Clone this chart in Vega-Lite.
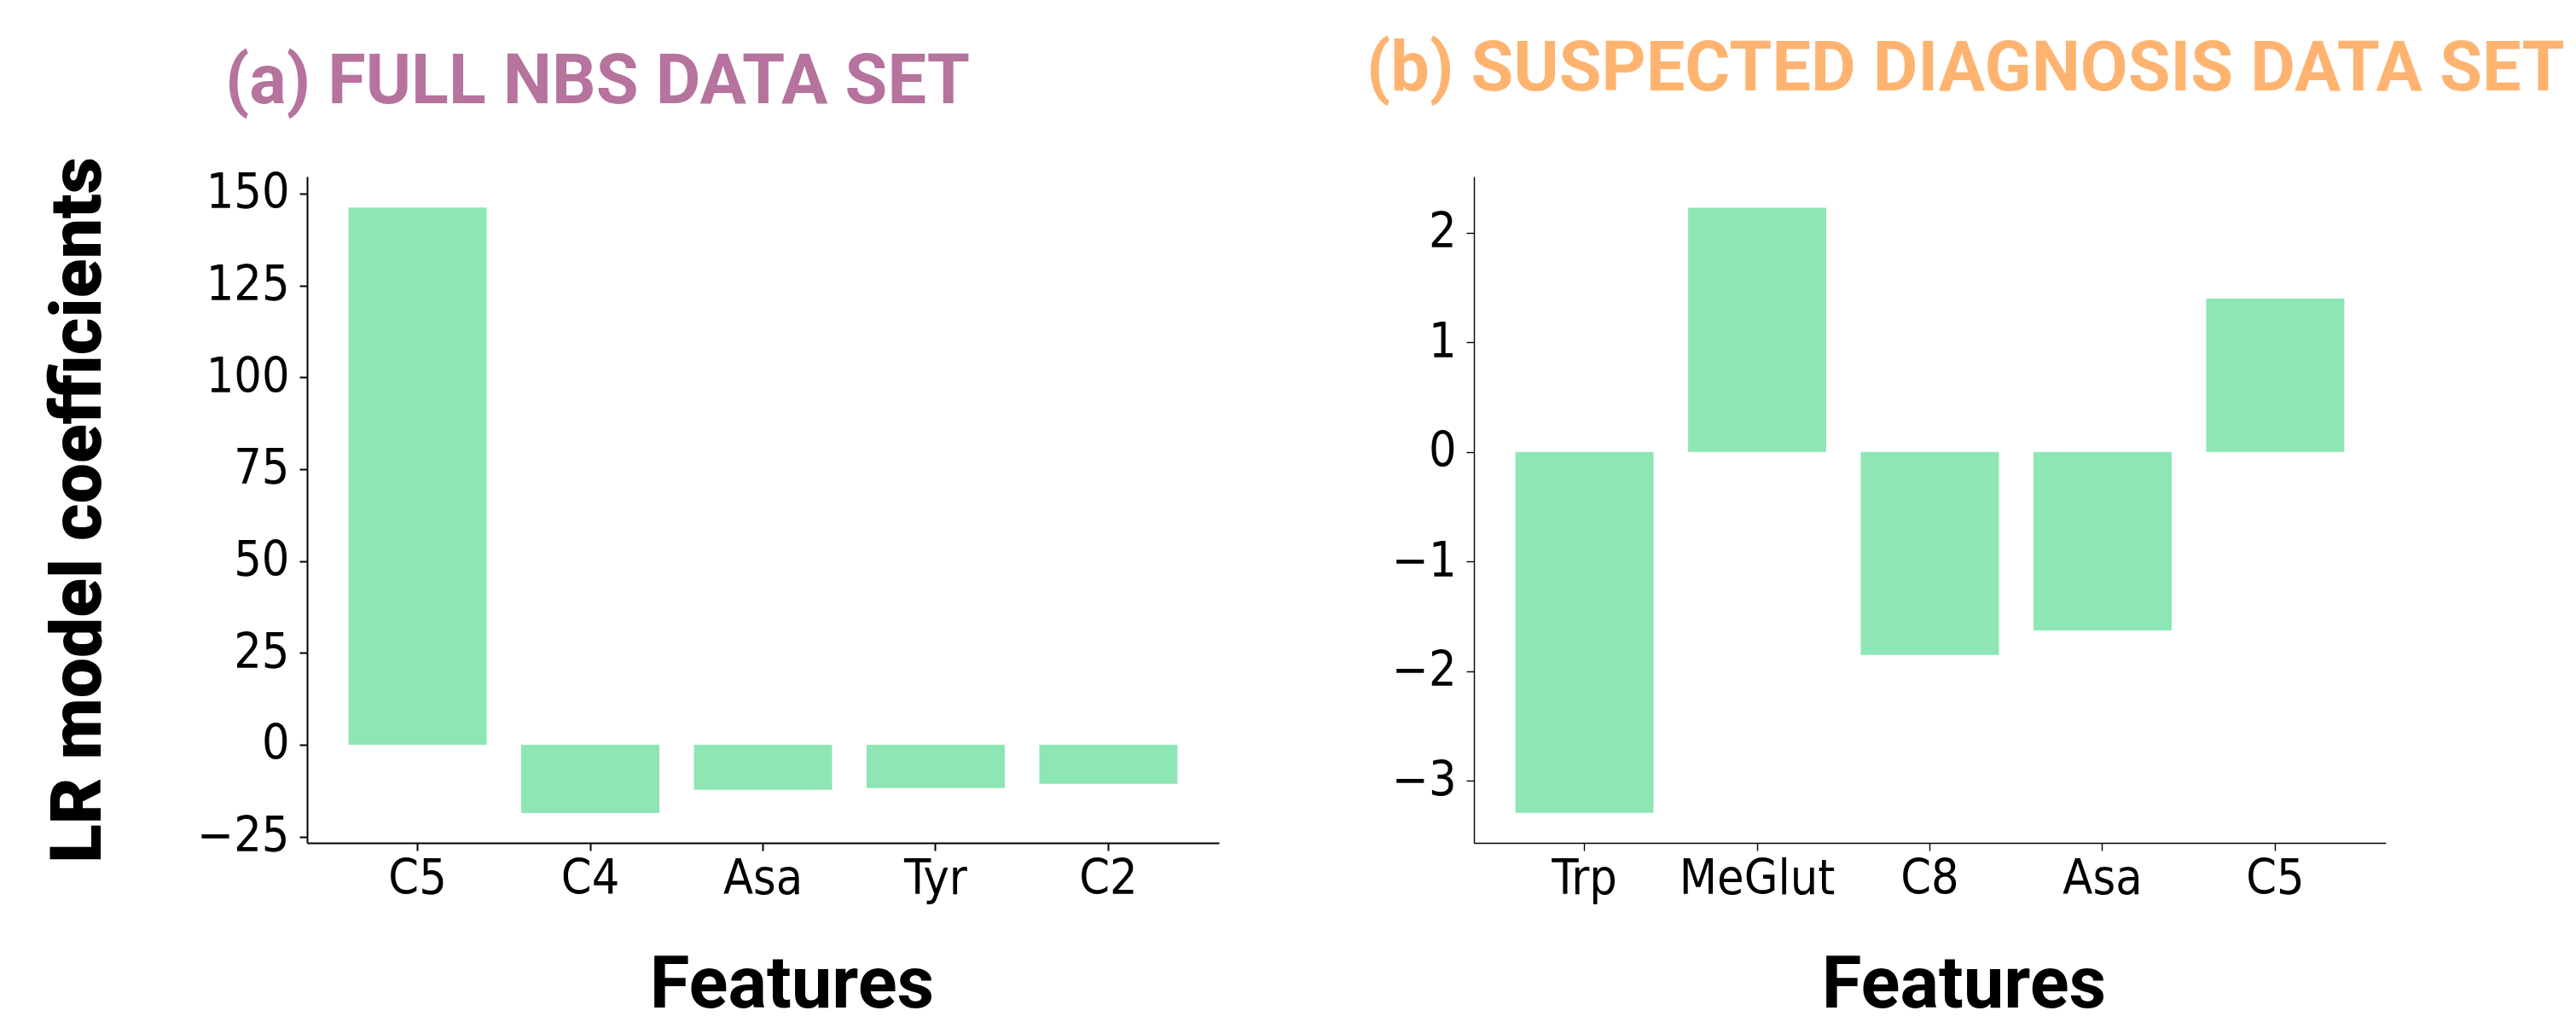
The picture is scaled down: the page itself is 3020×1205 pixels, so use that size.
{
  "$schema": "https://vega.github.io/schema/vega-lite/v6.json",
  "background": "white",
  "padding": {"left": 50, "top": 41, "right": 10, "bottom": 10},
  "bounds": "flush",
  "spacing": 299,
  "config": {"view": {"stroke": null}, "font": "DejaVu Sans"},
  "datasets": {
    "a": [
      {"feature": "C5", "coef": 146.2},
      {"feature": "C4", "coef": -18.6},
      {"feature": "Asa", "coef": -12.25},
      {"feature": "Tyr", "coef": -11.8},
      {"feature": "C2", "coef": -10.6}
    ],
    "b": [
      {"feature": "Trp", "coef": -3.29},
      {"feature": "MeGlut", "coef": 2.227},
      {"feature": "C8", "coef": -1.852},
      {"feature": "Asa", "coef": -1.627},
      {"feature": "C5", "coef": 1.397}
    ]
  },
  "hconcat": [
    {
      "width": 1069,
      "height": 781,
      "title": {"text": "(a) FULL NBS DATA SET", "font": "Roboto", "fontWeight": "bold", "fontSize": 81, "color": "#b5739d", "anchor": "start", "frame": "group", "dx": -96, "baseline": "alphabetic", "offset": -18},
      "data": {"name": "a"},
      "mark": {"type": "bar", "color": "#8ee6b5"},
      "encoding": {
        "x": {
          "field": "feature", "type": "nominal", "sort": null,
          "scale": {"paddingInner": 0.2, "paddingOuter": 0.24},
          "axis": {"title": "Features", "labelAngle": 0, "labelLimit": 500, "grid": false, "domainColor": "black", "domainWidth": 2, "tickColor": "black", "tickWidth": 2, "tickSize": 9, "labelPadding": 5, "labelFont": "DejaVu Sans Condensed, DejaVu Sans", "labelFontSize": 57, "labelColor": "black", "titleFont": "Roboto", "titleFontWeight": "bold", "titleFontSize": 85, "titleColor": "black", "titleBaseline": "alphabetic", "titlePadding": 122, "titleX": 568}
        },
        "y": {
          "field": "coef", "type": "quantitative",
          "scale": {"domain": [-26.7, 154.6], "nice": false, "zero": false},
          "axis": {"title": "LR model coefficients", "values": [-25, 0, 25, 50, 75, 100, 125, 150], "grid": false, "domainColor": "black", "domainWidth": 2, "tickColor": "black", "tickWidth": 2, "tickSize": 9, "labelPadding": 12, "labelFont": "DejaVu Sans Condensed, DejaVu Sans", "labelFontSize": 57, "labelColor": "black", "labelFlush": false, "labelOverlap": false, "titleFont": "Roboto", "titleFontWeight": 900, "titleFontSize": 84, "titleColor": "black", "titleBaseline": "alphabetic", "titlePadding": 113}
        }
      }
    },
    {
      "width": 1069,
      "height": 781,
      "title": {"text": "(b) SUSPECTED DIAGNOSIS DATA SET", "font": "Roboto", "fontWeight": "bold", "fontSize": 81, "color": "#feb470", "anchor": "start", "frame": "group", "dx": -126, "baseline": "alphabetic", "offset": 20},
      "data": {"name": "b"},
      "mark": {"type": "bar", "color": "#8ee6b5"},
      "encoding": {
        "x": {
          "field": "feature", "type": "nominal", "sort": null,
          "scale": {"paddingInner": 0.2, "paddingOuter": 0.24},
          "axis": {"title": "Features", "labelAngle": 0, "labelLimit": 500, "grid": false, "domainColor": "black", "domainWidth": 1.4, "tickColor": "black", "tickWidth": 1.4, "tickSize": 9, "labelPadding": 5, "labelFont": "DejaVu Sans Condensed, DejaVu Sans", "labelFontSize": 57, "labelColor": "black", "titleFont": "Roboto", "titleFontWeight": "bold", "titleFontSize": 85, "titleColor": "black", "titleBaseline": "alphabetic", "titlePadding": 122, "titleX": 574}
        },
        "y": {
          "field": "coef", "type": "quantitative",
          "scale": {"domain": [-3.564, 2.51], "nice": false, "zero": false},
          "axis": {"title": null, "values": [-3, -2, -1, 0, 1, 2], "grid": false, "domainColor": "black", "domainWidth": 1.4, "tickColor": "black", "tickWidth": 1.4, "tickSize": 9, "labelPadding": 12, "labelFont": "DejaVu Sans Condensed, DejaVu Sans", "labelFontSize": 57, "labelColor": "black", "labelFlush": false, "labelOverlap": false}
        }
      }
    }
  ]
}
